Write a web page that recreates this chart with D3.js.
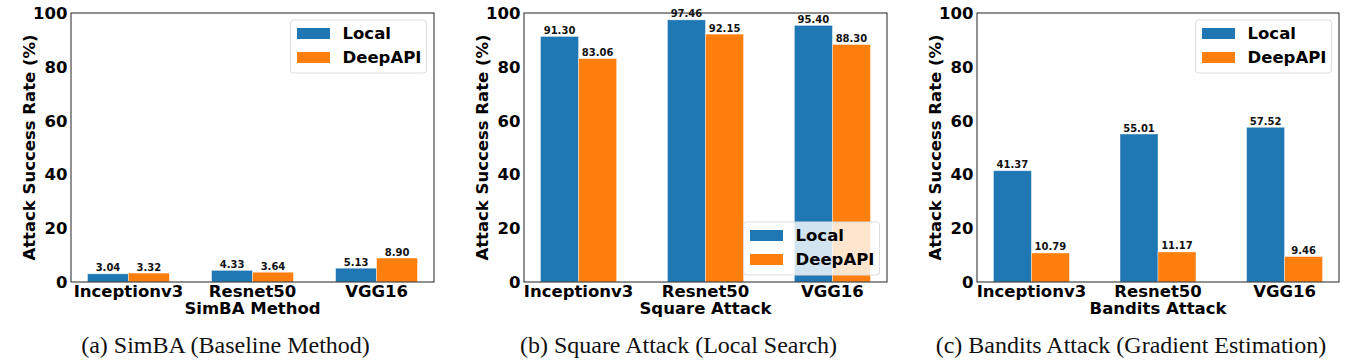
<!DOCTYPE html>
<html>
<head>
<meta charset="utf-8">
<script src="https://cdn.jsdelivr.net/npm/d3@7"></script>
<style>
    html, body { margin: 0; padding: 0; background: #fff; }
    svg { display: block; }
</style>
</head>
<body>
<div id="chart"></div>
<script>
// data
const categories = ["Inceptionv3", "Resnet50", "VGG16"];
const seriesNames = ["Local", "DeepAPI"];
const simbaLocal = [3.04, 4.33, 5.13];
const simbaDeepAPI = [3.32, 3.64, 8.90];
const squareLocal = [91.30, 97.46, 95.40];
const squareDeepAPI = [83.06, 92.15, 88.30];
const banditsLocal = [41.37, 55.01, 57.52];
const banditsDeepAPI = [10.79, 11.17, 9.46];
const yTicks = [0, 20, 40, 60, 80, 100];
const xTitles = ["SimBA Method", "Square Attack", "Bandits Attack"];
const captions = [
    "(a) SimBA (Baseline Method)",
    "(b) Square Attack (Local Search)",
    "(c) Bandits Attack (Gradient Estimation)"
];

const width = 1357;
const height = 364;
const colors = ["#1f77b4", "#ff7f0e"];
const FONT = "DejaVu Sans";
const AXIS_FS = "16.5px";

const panels = [
    { left: 71, right: 434, barWidth: 0.33, values: [simbaLocal, simbaDeepAPI], legend: "upper" },
    { left: 524, right: 887, barWidth: 0.3, values: [squareLocal, squareDeepAPI], legend: "lower" },
    { left: 977, right: 1339, barWidth: 0.3, values: [banditsLocal, banditsDeepAPI], legend: "upper" }
];
const TOP = 13;
const BOTTOM = 282;

const svg = d3.select("#chart")
    .append("svg")
    .attr("width", width)
    .attr("height", height)
    .attr("viewBox", `0 0 ${width} ${height}`);

panels.forEach((p, pi) => {
    const w = p.barWidth;
    const n = categories.length;
    // matplotlib-like margins (5% of data span)
    const lo = -w, hi = (n - 1) + w;
    const pad = 0.05 * (hi - lo);
    const x = d3.scaleLinear().domain([lo - pad, hi + pad]).range([p.left, p.right]);
    const y = d3.scaleLinear().domain([0, 100]).range([BOTTOM, TOP]);

    const g = svg.append("g").attr("class", "panel");

    // bars
    p.values.forEach((vals, si) => {
        const offset = si === 0 ? -w : 0;
        g.selectAll(null)
            .data(vals)
            .enter()
            .append("rect")
            .attr("x", (d, i) => x(i + offset))
            .attr("y", (d) => y(d))
            .attr("width", (d, i) => x(i + offset + w) - x(i + offset))
            .attr("height", (d) => y(0) - y(d))
            .attr("fill", colors[si])
            .attr("stroke", "#fff")
            .attr("stroke-opacity", 0.5)
            .attr("stroke-width", 0.8);

        g.selectAll(null)
            .data(vals)
            .enter()
            .append("text")
            .attr("x", (d, i) => x(i + offset + w / 2))
            .attr("y", (d) => y(d) - 2.5)
            .attr("text-anchor", "middle")
            .attr("font-family", FONT)
            .attr("font-weight", "bold")
            .attr("font-size", "10px")
            .attr("fill", "#111")
            .text((d) => d.toFixed(2));
    });

    // frame
    g.append("rect")
        .attr("x", p.left)
        .attr("y", TOP)
        .attr("width", p.right - p.left)
        .attr("height", BOTTOM - TOP)
        .attr("fill", "none")
        .attr("stroke", "#222")
        .attr("stroke-width", 1);

    // y tick labels
    g.selectAll(null)
        .data(yTicks)
        .enter()
        .append("text")
        .attr("x", p.left - 3.5)
        .attr("y", (d) => y(d))
        .attr("dy", "0.36em")
        .attr("text-anchor", "end")
        .attr("font-family", FONT)
        .attr("font-weight", "bold")
        .attr("font-size", AXIS_FS)
        .text((d) => d);

    // x tick labels
    g.selectAll(null)
        .data(categories)
        .enter()
        .append("text")
        .attr("x", (d, i) => x(i))
        .attr("y", 297)
        .attr("text-anchor", "middle")
        .attr("font-family", FONT)
        .attr("font-weight", "bold")
        .attr("font-size", AXIS_FS)
        .text((d) => d);

    // x title
    g.append("text")
        .attr("x", (p.left + p.right) / 2)
        .attr("y", 313.5)
        .attr("text-anchor", "middle")
        .attr("font-family", FONT)
        .attr("font-weight", "bold")
        .attr("font-size", AXIS_FS)
        .text(xTitles[pi]);

    // y title
    g.append("text")
        .attr("transform", `translate(${p.left - 36},${(TOP + BOTTOM) / 2}) rotate(-90)`)
        .attr("text-anchor", "middle")
        .attr("font-family", FONT)
        .attr("font-weight", "bold")
        .attr("font-size", AXIS_FS)
        .text("Attack Success Rate (%)");

    // legend
    const lw = 136, lh = 53;
    const lx = p.right - 7.5 - lw;
    const ly = p.legend === "upper" ? TOP + 7 : BOTTOM - 7 - lh;
    const leg = g.append("g").attr("transform", `translate(${lx},${ly})`);
    leg.append("rect")
        .attr("width", lw)
        .attr("height", lh)
        .attr("rx", 3)
        .attr("fill", "#fff")
        .attr("fill-opacity", 0.8)
        .attr("stroke", "#ddd")
        .attr("stroke-width", 1);
    seriesNames.forEach((s, si) => {
        leg.append("rect")
            .attr("x", 6.5)
            .attr("y", 8 + si * 24)
            .attr("width", 33)
            .attr("height", 11)
            .attr("fill", colors[si]);
        leg.append("text")
            .attr("x", 52)
            .attr("y", 13.5 + si * 24)
            .attr("dy", "0.36em")
            .attr("font-family", FONT)
            .attr("font-weight", "bold")
            .attr("font-size", AXIS_FS)
            .text(s);
    });

    // caption
    g.append("text")
        .attr("x", (p.left + p.right) / 2 - 27)
        .attr("y", 353)
        .attr("text-anchor", "middle")
        .attr("font-family", "Liberation Serif")
        .attr("font-size", "24px")
        .attr("fill", "#111")
        .text(captions[pi]);
});
</script>
</body>
</html>
